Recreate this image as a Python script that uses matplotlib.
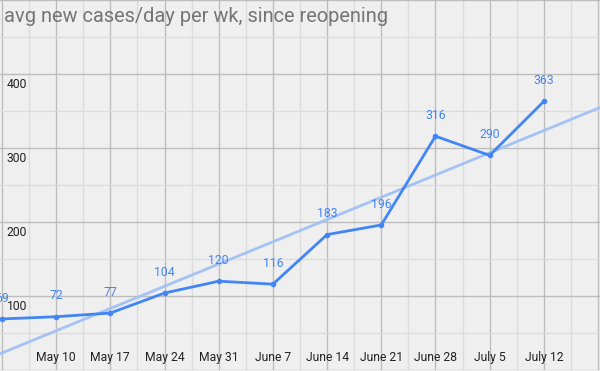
import numpy as np
import matplotlib
matplotlib.use("Agg")
import matplotlib.pyplot as plt
from matplotlib.ticker import MultipleLocator
import matplotlib.transforms as mtransforms

plt.rcParams['font.family'] = ['Roboto', 'DejaVu Sans']

weeks = ["May 3", "May 10", "May 17", "May 24", "May 31", "June 7",
         "June 14", "June 21", "June 28", "July 5", "July 12"]
cases = [69, 72, 77, 104, 120, 116, 183, 196, 316, 290, 363]
y_ticks = [100, 200, 300, 400]

bg = "#efefef"
line_col = "#4285f4"
trend_col = "#a4c2f4"

fig = plt.figure(figsize=(6, 3.71), dpi=100, facecolor=bg)
ax = fig.add_axes([0, 1 / 371, 1, 370 / 371], facecolor=bg)

x = np.arange(len(cases))
ax.set_xlim(-0.037, 11.037)
ax.set_ylim(0, 500)

# grid
ax.xaxis.set_major_locator(MultipleLocator(1))
ax.xaxis.set_minor_locator(MultipleLocator(0.5))
ax.yaxis.set_major_locator(MultipleLocator(100))
ax.yaxis.set_minor_locator(MultipleLocator(50))
ax.grid(which="major", color="#bdbdbd", linewidth=1)
ax.grid(which="minor", color="#dcdcdc", linewidth=1)
ax.set_axisbelow(True)
ax.tick_params(which="both", length=0, labelbottom=False, labelleft=False)
for s in ax.spines.values():
    s.set_visible(False)

# trend line
slope, icpt = np.polyfit(x, cases, 1)
tx = np.array(ax.get_xlim())
ax.plot(tx, slope * tx + icpt, color=trend_col, linewidth=2, zorder=2)

# data
ax.plot(x, cases, color=line_col, linewidth=2, marker="o", markersize=3,
        zorder=3, clip_on=False)
for xi, v in zip(x, cases):
    ax.annotate(str(v), (xi, v), xytext=(0, 15), textcoords="offset points",
                ha="center", va="center", fontsize=8.8, color=line_col)

# tick labels drawn inside the plot
for v in y_ticks:
    ax.text(0.011, v - 5, str(v), transform=ax.get_yaxis_transform(),
            ha="left", va="top", fontsize=8.7, color="#222222")
bt = mtransforms.blended_transform_factory(ax.transData, ax.transAxes)
for i, w in enumerate(weeks):
    if i == 0:
        continue
    ax.text(i, 0.033, w, transform=bt, ha="center", va="center",
            fontsize=8.7, color="#222222")

fig.text(4 / 600, 1 - 17 / 371, "avg new cases/day per wk, since reopening",
         ha="left", va="center", fontsize=14.4, color="#757575")

fig.savefig("out.png", dpi=100, facecolor=bg)
